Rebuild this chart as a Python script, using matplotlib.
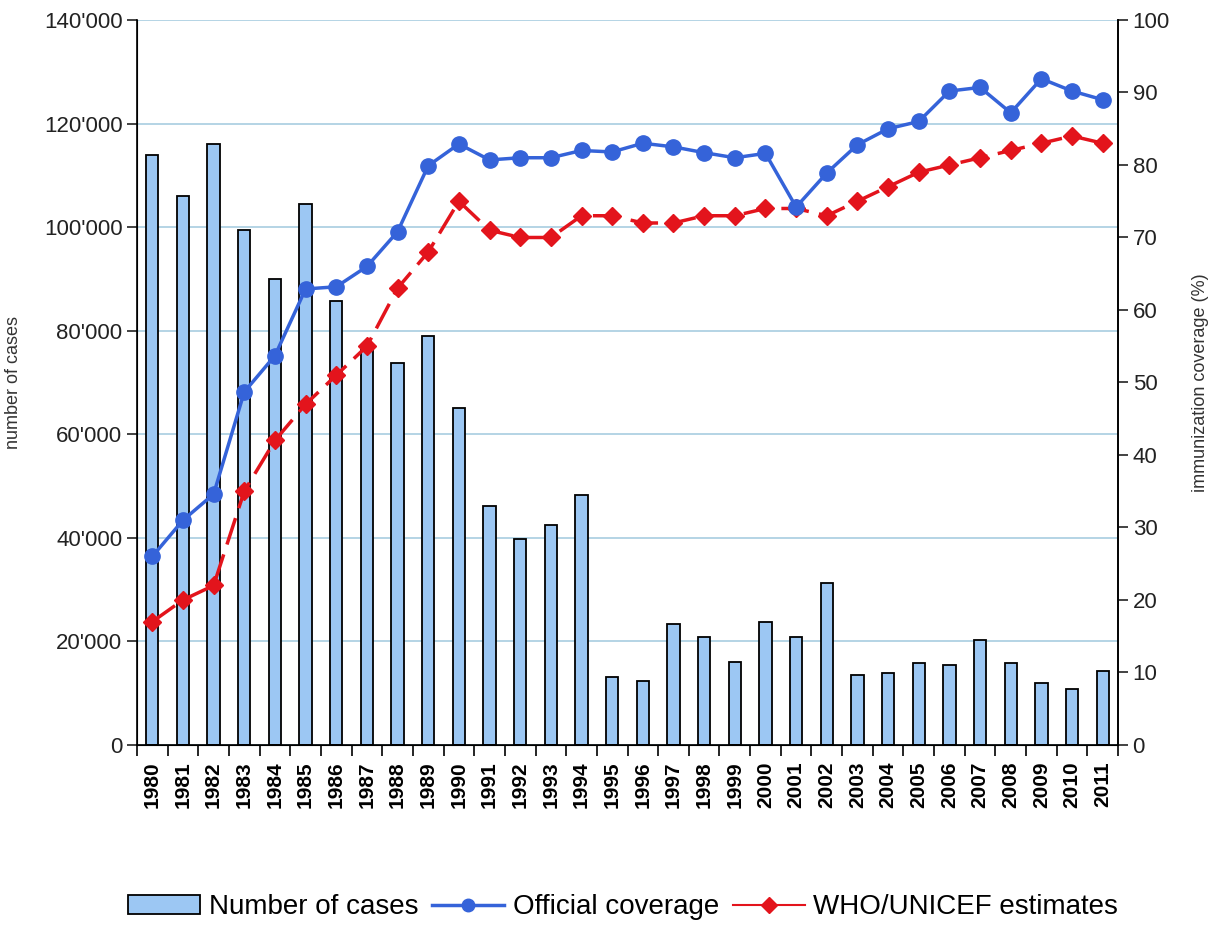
import matplotlib.pyplot as plt
import numpy as np
from matplotlib.ticker import FuncFormatter
from matplotlib.patches import Patch
from matplotlib.lines import Line2D

plt.rcParams['font.family'] = ['Liberation Sans', 'DejaVu Sans']

years = list(range(1980, 2012))
cases = [114000, 106000, 116000, 99500, 90000, 104500, 85700, 76300, 73800, 79000,
         65000, 46100, 39700, 42500, 48200, 13100, 12400, 23400, 20900, 16000,
         23700, 20800, 31300, 13500, 13900, 15800, 15400, 20300, 15800, 12000,
         10800, 14300]
official = [26, 31, 34.6, 48.7, 53.7, 62.9, 63.2, 66, 70.8, 79.9,
            82.9, 80.7, 81, 81, 82, 81.8, 83, 82.5, 81.7, 81,
            81.6, 74.2, 78.9, 82.8, 85, 86, 90.2, 90.7, 87.2, 91.9,
            90.2, 89]
who_unicef = [17, 20, 22, 35, 42, 47, 51, 55, 63, 68,
              75, 71, 70, 70, 73, 73, 72, 72, 73, 73,
              74, 74, 73, 75, 77, 79, 80, 81, 82, 83,
              84, 83]

bar_color = '#9cc7f3'
blue = '#3563d9'
red = '#e3141c'

fig = plt.figure(figsize=(12.1, 9.26), dpi=100)
ax = fig.add_axes([0.1132, 0.1955, 0.8108, 0.7829])
x = np.arange(len(years))

ax.bar(x, cases, width=0.4, color=bar_color, edgecolor='black', linewidth=1.3, zorder=2)
ax.set_ylim(0, 140000)
ax.set_xlim(-0.5, len(years) - 0.5)
ax.set_yticks(np.arange(0, 140001, 20000))
ax.yaxis.set_major_formatter(FuncFormatter(lambda v, p: '0' if v == 0 else f"{int(v/1000)}'000"))
ax.yaxis.grid(True, color='#a8cde0', linewidth=1.2, zorder=0)
ax.set_axisbelow(True)
ax.set_ylabel('number of cases', fontsize=13, color='#333333', labelpad=16)

ax.set_xticks(x)
ax.set_xticklabels([str(y) for y in years], rotation=90, fontsize=15, fontweight='bold')
ax.set_xticks(np.arange(-0.5, len(years)), minor=True)
ax.tick_params(axis='x', which='major', length=0, pad=12)
ax.tick_params(axis='x', which='minor', length=8, width=1.2, direction='out')
ax.tick_params(axis='y', labelsize=16, length=7, width=1.2, direction='out', colors='#222222')

ax.spines['top'].set_visible(False)
for s in ['left', 'bottom', 'right']:
    ax.spines[s].set_linewidth(1.2)

ax2 = ax.twinx()
ax2.plot(x, official, color=blue, linewidth=2.5, marker='o', markersize=11, zorder=4)
ax2.plot(x, who_unicef, color=red, linewidth=2.5, linestyle=(0, (8, 3)), marker='D',
         markersize=9, zorder=3)
ax2.set_ylim(0, 100)
ax2.set_yticks(np.arange(0, 101, 10))
ax2.tick_params(axis='y', labelsize=16, length=7, width=1.2, direction='out', colors='#222222')
ax2.set_ylabel('immunization coverage (%)', fontsize=13, color='#333333', labelpad=16)
ax2.spines['top'].set_visible(False)
ax2.spines['right'].set_linewidth(1.2)

handles = [
    Patch(facecolor=bar_color, edgecolor='black', linewidth=1.3),
    Line2D([], [], color=blue, linewidth=2.5, marker='o', markersize=9),
    Line2D([], [], color=red, linewidth=1.5, marker='D', markersize=8),
]
labels = ['Number of cases', 'Official coverage', 'WHO/UNICEF estimates']
fig.legend(handles, labels, loc='center', bbox_to_anchor=(0.515, 0.02), ncol=3,
           frameon=False, fontsize=20, handlelength=2.6, handletextpad=0.3,
           columnspacing=0.5)

fig.savefig('out.png', dpi=100)
